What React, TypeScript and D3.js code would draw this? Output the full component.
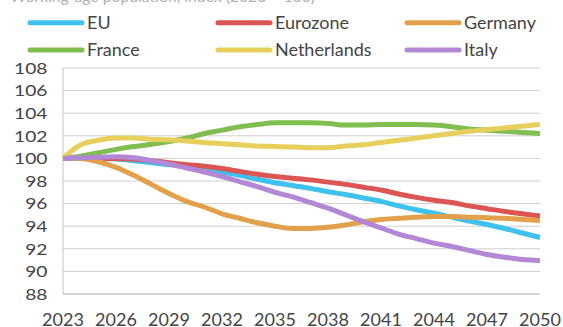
import React from "react";
import * as d3 from "d3";

const years = d3.range(2023, 2051);
const yTicks = [88, 90, 92, 94, 96, 98, 100, 102, 104, 106, 108];
const xTickYears = [2023, 2026, 2029, 2032, 2035, 2038, 2041, 2044, 2047, 2050];

const seriesNames = ["EU", "Eurozone", "Germany", "France", "Netherlands", "Italy"];
const seriesColors = ["#3fc1ef", "#db5552", "#e3a04a", "#7fbe4f", "#e7cf5c", "#b287d6"];

const euValues = [100, 100, 100, 99.95, 99.8, 99.62, 99.45, 99.25, 99.05, 98.8, 98.5, 98.15, 97.85, 97.6, 97.35, 97.05, 96.8, 96.5, 96.2, 95.8, 95.45, 95.15, 94.8, 94.45, 94.15, 93.8, 93.4, 93.0];
const eurozoneValues = [100, 100, 100, 100, 99.95, 99.8, 99.62, 99.45, 99.3, 99.1, 98.85, 98.6, 98.4, 98.25, 98.1, 97.9, 97.7, 97.45, 97.2, 96.85, 96.55, 96.3, 96.1, 95.8, 95.55, 95.3, 95.1, 94.9];
const germanyValues = [100, 100, 99.7, 99.2, 98.5, 97.7, 96.9, 96.2, 95.7, 95.1, 94.7, 94.3, 94.0, 93.8, 93.8, 93.9, 94.1, 94.4, 94.6, 94.7, 94.8, 94.85, 94.85, 94.8, 94.75, 94.7, 94.6, 94.5];
const franceValues = [100, 100.2, 100.5, 100.8, 101.05, 101.25, 101.5, 101.8, 102.2, 102.5, 102.8, 103.0, 103.15, 103.15, 103.15, 103.1, 102.95, 102.95, 103.0, 103.0, 103.0, 102.95, 102.8, 102.6, 102.5, 102.4, 102.3, 102.2];
const netherlandsValues = [100, 101.2, 101.6, 101.8, 101.8, 101.7, 101.65, 101.55, 101.4, 101.3, 101.2, 101.1, 101.05, 101.0, 100.95, 100.95, 101.1, 101.2, 101.4, 101.6, 101.8, 102.0, 102.2, 102.4, 102.55, 102.7, 102.85, 103.0];
const italyValues = [100, 100.05, 100.1, 100.15, 100.05, 99.8, 99.5, 99.15, 98.8, 98.4, 97.95, 97.5, 97.0, 96.6, 96.1, 95.6, 95.0, 94.4, 93.85, 93.3, 92.9, 92.5, 92.2, 91.85, 91.5, 91.25, 91.05, 90.95];

const seriesValues = [euValues, eurozoneValues, germanyValues, franceValues, netherlandsValues, italyValues];

const titleText = "Working-age population, index (2023 = 100)";

export default function App() {
  const W = 563;
  const H = 327;
  const left = 63;
  const right = 540;
  const top = 68;
  const bottom = 294;

  const x = d3.scaleLinear().domain([2023, 2050]).range([left, right]);
  const y = d3.scaleLinear().domain([88, 108]).range([bottom, top]);

  const line = d3
    .line<number>()
    .x((_, i) => x(years[i]))
    .y((d) => y(d))
    .curve(d3.curveMonotoneX);

  const legendCols = [28, 216, 405];
  const legendRows = [22.7, 50];

  const font = "Lato, 'Open Sans', sans-serif";

  return (
    <svg
      width={W}
      height={H}
      style={{ position: "absolute", left: 0, top: 0, background: "#fff" }}
      fontFamily={font}
    >
      <rect x={0} y={0} width={W} height={H} fill="#fff" />
      <text x={10} y={1.5} fontSize={15} fill="#b0b0b0" textLength={305} lengthAdjust="spacingAndGlyphs">
        {titleText}
      </text>

      {yTicks.map((t) => (
        <line key={t} x1={left} x2={right} y1={y(t)} y2={y(t)} stroke="#cfcfcf" strokeWidth={1} />
      ))}
      <line x1={left} x2={left} y1={top} y2={bottom} stroke="#c4c4c4" strokeWidth={1} />
      <line x1={left} x2={right} y1={bottom} y2={bottom} stroke="#c4c4c4" strokeWidth={1} />

      {yTicks.map((t) => (
        <text
          key={t}
          transform={`translate(47.5,${y(t)}) scale(1.2,1)`}
          dy="0.36em"
          textAnchor="end"
          fontSize={16}
          fill="#444"
        >
          {t}
        </text>
      ))}

      {xTickYears.map((yr) => (
        <text key={yr} x={x(yr)} y={325.5} textAnchor="middle" fontSize={18} fill="#444">
          {yr}
        </text>
      ))}

      {seriesValues.map((vals, i) => (
        <path
          key={seriesNames[i]}
          d={line(vals) || ""}
          fill="none"
          stroke={seriesColors[i]}
          strokeWidth={5}
          strokeLinejoin="round"
          strokeLinecap="butt"
        />
      ))}

      {seriesNames.map((name, i) => {
        const col = i % 3;
        const row = Math.floor(i / 3);
        const lx = legendCols[col];
        const ly = legendRows[row];
        return (
          <g key={name}>
            <line x1={lx + 2} x2={lx + 54} y1={ly} y2={ly} stroke={seriesColors[i]} strokeWidth={5} strokeLinecap="round" />
            <text x={lx + 59} y={ly} dy="0.36em" fontSize={18} fill="#444">
              {name}
            </text>
          </g>
        );
      })}
    </svg>
  );
}
